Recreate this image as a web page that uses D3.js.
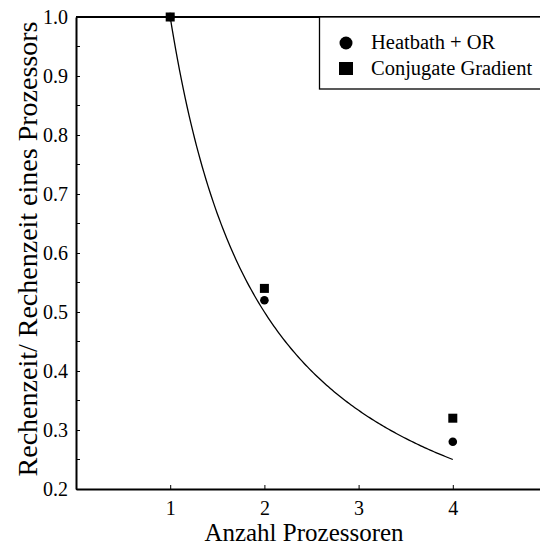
<!DOCTYPE html>
<html>
<head>
<meta charset="utf-8">
<script src="https://cdn.jsdelivr.net/npm/d3@7"></script>
<style>
  body { margin: 0; background: #fff; }
  svg text { font-family: 'Liberation Serif', 'Times New Roman', Times, serif !important; fill: #000; }
</style>
</head>
<body>
<div id="chart"></div>
<script>
// data
var processors = [1, 2, 4];
var heatbath = [1.0, 0.52, 0.28];
var conjugate = [1.0, 0.54, 0.32];
var xTicks = [1, 2, 3, 4];
var yTicks = [0.2, 0.3, 0.4, 0.5, 0.6, 0.7, 0.8, 0.9, 1.0];
var seriesNames = ["Heatbath + OR", "Conjugate Gradient"];

var svgWidth = 540, svgHeight = 546;
var margin = { top: 17, left: 76, bottom: 57 };

var svg = d3.select("#chart").append("svg")
  .attr("width", svgWidth)
  .attr("height", svgHeight);

var x = d3.scaleLinear().domain([0, 5]).range([margin.left, margin.left + 471]);
var y = d3.scaleLinear().domain([0.2, 1.0]).range([svgHeight - margin.bottom, margin.top]);

// ideal 1/n curve
var curveX = d3.range(1, 4.0001, 0.02);
var line = d3.line().x(d => x(d)).y(d => y(1 / d));
svg.append("path")
  .datum(curveX)
  .attr("d", line)
  .attr("fill", "none")
  .attr("stroke", "#000")
  .attr("stroke-width", 1.3);

// axes
var bottomAxis = d3.axisBottom(x).tickValues(xTicks).tickFormat(d3.format("d"))
  .tickSizeInner(-4).tickSizeOuter(0).tickPadding(12);
var gx = svg.append("g")
  .attr("transform", `translate(0, ${y(0.2)})`)
  .call(bottomAxis);

var leftAxis = d3.axisLeft(y).tickValues(yTicks).tickFormat(d3.format(".1f"))
  .tickSizeInner(-4).tickSizeOuter(0).tickPadding(8);
var gy = svg.append("g")
  .attr("transform", `translate(${x(0)}, 0)`)
  .call(leftAxis);

// minor ticks on y
gy.selectAll(".minor")
  .data(yTicks.slice(0, -1).map(d => d + 0.05))
  .enter().append("line")
  .attr("x1", 0).attr("x2", 4)
  .attr("y1", d => y(d)).attr("y2", d => y(d))
  .attr("stroke", "#000");

[gx, gy].forEach(function(g) {
  g.attr("font-size", null).attr("font-family", null);
  g.select(".domain").attr("stroke-width", 2);
  g.selectAll("text").style("font-size", "20px");
});

// top frame line
svg.append("line")
  .attr("x1", x(0)).attr("x2", svgWidth)
  .attr("y1", y(1.0)).attr("y2", y(1.0))
  .attr("stroke", "#000").attr("stroke-width", 2);

// points
svg.selectAll(".hb")
  .data(processors)
  .enter().append("circle")
  .attr("cx", d => x(d))
  .attr("cy", (d, i) => y(heatbath[i]))
  .attr("r", 4.3);

svg.selectAll(".cg")
  .data(processors)
  .enter().append("rect")
  .attr("x", d => x(d) - 4.5)
  .attr("y", (d, i) => y(conjugate[i]) - 4.5)
  .attr("width", 9).attr("height", 9);

// legend
var legend = svg.append("g");
legend.append("rect")
  .attr("x", 319.5).attr("y", y(1.0))
  .attr("width", 240).attr("height", 89 - y(1.0))
  .attr("fill", "#fff").attr("stroke", "#000").attr("stroke-width", 1.3);
legend.append("circle").attr("cx", 346).attr("cy", 43).attr("r", 6.5);
legend.append("rect").attr("x", 339).attr("y", 62).attr("width", 14).attr("height", 13);
legend.selectAll(".lt")
  .data(seriesNames)
  .enter().append("text")
  .attr("x", 371)
  .attr("y", (d, i) => 49 + i * 26)
  .style("font-size", "20.5px")
  .text(d => d);

// axis titles
svg.append("text")
  .attr("x", 304).attr("y", 541)
  .attr("text-anchor", "middle")
  .style("font-size", "25px")
  .text("Anzahl Prozessoren");

svg.append("text")
  .attr("transform", "translate(37, 249) rotate(-90)")
  .attr("text-anchor", "middle")
  .style("font-size", "28px")
  .text("Rechenzeit/ Rechenzeit eines Prozessors");
</script>
</body>
</html>
